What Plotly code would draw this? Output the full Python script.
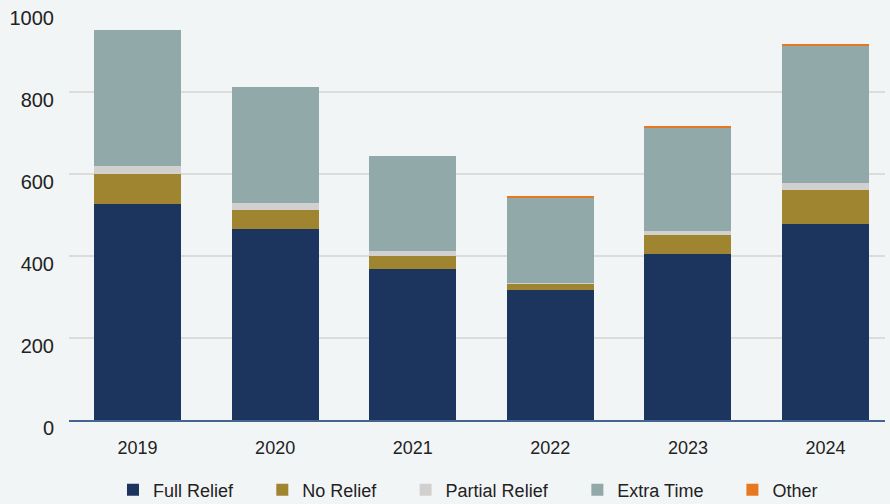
import plotly.graph_objects as go

years = ["2019", "2020", "2021", "2022", "2023", "2024"]

full_relief = [526, 467, 368, 318, 404, 479]
no_relief = [75, 46, 31, 15, 48, 81]
partial_relief = [19, 17, 14, 2, 10, 17]
extra_time = [332, 281, 230, 208, 251, 337]
other = [0, 0, 0, 4, 5, 2]

series = [
    ("Full Relief", full_relief, "#1c355e"),
    ("No Relief", no_relief, "#a08530"),
    ("Partial Relief", partial_relief, "#d2d0ce"),
    ("Extra Time", extra_time, "#91a9a9"),
    ("Other", other, "#e87722"),
]

# left edge of each legend entry, in paper units
legend_x = [0.0539, 0.2369, 0.4125, 0.6230, 0.8130]

FONT = "Liberation Sans, Arial, Helvetica, sans-serif"
BG = "#f2f5f6"

fig = go.Figure()
for i, (name, vals, color) in enumerate(series):
    lg = "legend" if i == 0 else f"legend{i + 1}"
    fig.add_trace(go.Bar(
        x=years, y=vals, name=name,
        marker=dict(color=color, line=dict(width=0)),
        legend=lg,
    ))

layout_legends = {}
for i, lx in enumerate(legend_x):
    key = "legend" if i == 0 else f"legend{i + 1}"
    layout_legends[key] = dict(
        orientation="h", x=lx, xanchor="left",
        yref="container", y=14 / 504, yanchor="middle",
        bgcolor="rgba(0,0,0,0)", borderwidth=0,
        font=dict(family=FONT, size=18, color="#222222"),
    )

fig.update_layout(
    barmode="stack",
    bargap=0.368,
    width=890, height=504,
    margin=dict(l=69, r=5, t=10, b=83.5, autoexpand=False),
    paper_bgcolor=BG, plot_bgcolor=BG,
    font=dict(family=FONT, color="#222222"),
    showlegend=True,
    **layout_legends,
)

fig.update_yaxes(
    range=[0, 1000], tickvals=[0, 200, 400, 600, 800, 1000],
    showgrid=True, gridcolor="#dcdcdc", gridwidth=1.5,
    zeroline=False, showline=False, automargin=False,
    tickfont=dict(family=FONT, size=20, color="#222222"),
    ticklabelstandoff=14, ticklabelshift=8,
)
fig.update_xaxes(
    range=[-0.498, 5.432],
    showline=True, linecolor="#45648f", linewidth=1.5,
    showgrid=False, automargin=False,
    tickfont=dict(family=FONT, size=18, color="#222222"),
    ticklabelstandoff=11,
)

fig.write_html("out.html")
